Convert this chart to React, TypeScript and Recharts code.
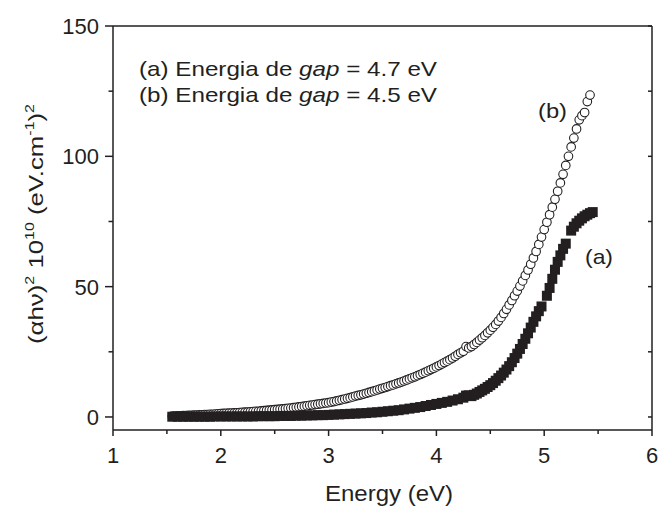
import React from 'react';
import { ScatterChart, Scatter, XAxis, YAxis } from 'recharts';

// ---------- data ----------
const bEnergy = [
  1.55, 1.575, 1.6, 1.625, 1.65, 1.675, 1.7, 1.725, 1.75, 1.775, 1.8, 1.825, 1.85, 1.875, 1.9, 1.925, 1.95, 1.975,
  2.0, 2.025, 2.05, 2.075, 2.1, 2.125, 2.15, 2.175, 2.2, 2.225, 2.25, 2.275, 2.3, 2.325, 2.35, 2.375, 2.4, 2.425,
  2.45, 2.475, 2.5, 2.525, 2.55, 2.575, 2.6, 2.625, 2.65, 2.675, 2.7, 2.725, 2.75, 2.775, 2.8, 2.825, 2.85,
  2.875, 2.9, 2.925, 2.95, 2.975, 3.0, 3.025, 3.05, 3.075, 3.1, 3.125, 3.15, 3.175, 3.2, 3.225, 3.25, 3.275, 3.3,
  3.325, 3.35, 3.375, 3.4, 3.425, 3.45, 3.475, 3.5, 3.525, 3.55, 3.575, 3.6, 3.625, 3.65, 3.675, 3.7, 3.725, 3.75,
  3.775, 3.8, 3.825, 3.85, 3.875, 3.9, 3.925, 3.95, 3.975, 4.0, 4.025, 4.05, 4.075, 4.1, 4.125, 4.15, 4.175, 4.2,
  4.225, 4.25, 4.275,
  4.3, 4.325, 4.35, 4.375, 4.4, 4.425, 4.45, 4.475, 4.5, 4.525, 4.55, 4.575, 4.6, 4.625, 4.65, 4.675, 4.7, 4.725,
  4.75, 4.775, 4.8, 4.825, 4.85, 4.875, 4.9, 4.925, 4.95, 4.975, 5.0, 5.025, 5.05, 5.075, 5.1, 5.125, 5.15, 5.175,
  5.2, 5.225, 5.25, 5.275, 5.3, 5.325, 5.35, 5.375, 5.4, 5.425,
];
const bValue = [
  0.3, 0.35, 0.4, 0.45, 0.5, 0.55, 0.6, 0.65, 0.7, 0.75, 0.8, 0.85, 0.9, 0.95, 1.0, 1.05, 1.1, 1.2,
  1.3, 1.35, 1.4, 1.45, 1.5, 1.55, 1.6, 1.7, 1.8, 1.85, 1.9, 2.0, 2.1, 2.15, 2.2, 2.3, 2.4, 2.5,
  2.6, 2.7, 2.8, 2.9, 3.0, 3.1, 3.2, 3.3, 3.4, 3.55, 3.7, 3.85, 4.0, 4.15, 4.3, 4.45, 4.6,
  4.75, 4.9, 5.05, 5.2, 5.35, 5.5, 5.7, 5.9, 6.15, 6.4, 6.65, 6.9, 7.15, 7.4, 7.7, 8.0, 8.25, 8.5,
  8.8, 9.1, 9.4, 9.7, 10.0, 10.35, 10.7, 11.0, 11.3, 11.65, 12.0, 12.3, 12.7, 13.05, 13.4, 13.8, 14.2, 14.6,
  15.0, 15.4, 15.85, 16.3, 16.75, 17.2, 17.7, 18.2, 18.7, 19.2, 19.75, 20.3, 20.85, 21.4, 22.0, 22.6, 23.3, 24.0,
  24.6, 25.2, 27.0,
  26.5, 27.0, 27.8, 28.6, 29.5, 30.4, 31.3, 32.3, 33.3, 34.4, 35.5, 36.8, 38.2, 39.7, 41.3, 43.0, 44.7, 46.5,
  48.3, 50.2, 52.2, 54.3, 56.4, 58.6, 61.0, 63.5, 66.2, 69.0, 71.9, 74.7, 77.6, 80.5, 83.5, 86.6, 89.8, 93.1,
  96.5, 100.0, 103.6, 107.0, 110.5, 114.0, 115.6, 116.8, 121.0, 123.5,
];

const aEnergy = [
  1.55, 1.6, 1.65, 1.7, 1.75, 1.8, 1.85, 1.9, 1.95, 2.0, 2.05, 2.1, 2.15, 2.2, 2.25, 2.3, 2.35, 2.4, 2.45, 2.5,
  2.55, 2.6, 2.65, 2.7, 2.75, 2.8, 2.85, 2.9, 2.95, 3.0, 3.05, 3.1, 3.15, 3.2, 3.25, 3.3, 3.35, 3.4, 3.45, 3.5,
  3.55, 3.6, 3.65, 3.7, 3.75, 3.8, 3.85, 3.9, 3.95, 4.0, 4.05, 4.1, 4.15, 4.2, 4.25,
  4.275, 4.3, 4.325, 4.35, 4.375, 4.4, 4.425, 4.45, 4.475, 4.5, 4.525, 4.55, 4.575, 4.6, 4.625, 4.65, 4.675, 4.7,
  4.725, 4.75, 4.775, 4.8, 4.825, 4.85, 4.875, 4.9, 4.925, 4.95, 4.975,
  5.025, 5.05, 5.075, 5.1, 5.125, 5.15, 5.175, 5.2,
  5.25, 5.275, 5.3, 5.325, 5.35, 5.375, 5.4, 5.425, 5.45,
];
const aValue = [
  0.1, 0.1, 0.1, 0.1, 0.1, 0.1, 0.1, 0.1, 0.2, 0.2, 0.2, 0.2, 0.2, 0.2, 0.2, 0.2, 0.3, 0.3, 0.3, 0.3,
  0.4, 0.4, 0.4, 0.5, 0.5, 0.6, 0.6, 0.7, 0.7, 0.8, 0.9, 1.0, 1.1, 1.2, 1.3, 1.4, 1.5, 1.7, 1.8, 2.0,
  2.2, 2.4, 2.6, 2.9, 3.2, 3.5, 3.8, 4.2, 4.6, 5.0, 5.4, 5.8, 6.3, 6.8, 7.4,
  8.2, 8.3, 8.0, 8.5, 9.0, 9.6, 10.2, 10.8, 11.5, 12.2, 13.0, 13.9, 14.9, 15.9, 17.0, 18.2, 19.5, 21.0,
  22.6, 24.3, 26.1, 28.0, 30.0, 32.1, 34.3, 36.5, 38.6, 40.6, 42.4,
  46.5, 49.5, 53.0, 56.5, 59.5, 62.0, 64.5, 66.5,
  71.5, 73.0, 74.3, 75.3, 76.2, 77.0, 77.6, 78.2, 78.6,
];

const xMajorTicks = [1, 2, 3, 4, 5, 6];
const xMinorTicks = [1.5, 2.5, 3.5, 4.5, 5.5];
const yMajorTicks = [0, 50, 100, 150];
const yMinorTicks = [25, 75, 125];
const xDomain = [1, 6];
const yDomain = [-5, 150];

const seriesNames = ['(a)', '(b)'];
const gapValues = ['4.7', '4.5'];

const aData = aEnergy.map((e, i) => ({ x: e, y: aValue[i] }));
const bData = bEnergy.map((e, i) => ({ x: e, y: bValue[i] }));
const xTicks = [...xMajorTicks, ...xMinorTicks].sort((p, q) => p - q);
const yTicks = [...yMajorTicks, ...yMinorTicks].sort((p, q) => p - q);

// ---------- styles ----------
const INK = '#231f20';
const FONT = '"Liberation Sans", Arial, Helvetica, sans-serif';
const AXIS_W = 1.5;

const LeftTick = (p: any) => {
  const v = p.payload.value;
  const major = yMajorTicks.includes(v);
  return (
    <g>
      <line x1={p.x - (major ? 8 : 4.5)} x2={p.x} y1={p.y} y2={p.y} stroke={INK} strokeWidth={AXIS_W} />
      {major && (
        <text x={p.x - 14} y={p.y + 8} textAnchor="end" fontSize={22} fontFamily={FONT} fill={INK}>
          {v}
        </text>
      )}
    </g>
  );
};

const BottomTick = (p: any) => {
  const v = p.payload.value;
  const major = xMajorTicks.includes(v);
  return (
    <g>
      <line x1={p.x} x2={p.x} y1={p.y} y2={p.y + (major ? 6 : 4)} stroke={INK} strokeWidth={AXIS_W} />
      {major && (
        <text x={p.x} y={p.y + 33} textAnchor="middle" fontSize={22} fontFamily={FONT} fill={INK}>
          {v}
        </text>
      )}
    </g>
  );
};

const TopTick = (p: any) => (
  <line x1={p.x} x2={p.x} y1={p.y} y2={p.y + 4} stroke={INK} strokeWidth={AXIS_W} />
);

const RightTick = (p: any) => (
  <line x1={p.x - 4} x2={p.x} y1={p.y} y2={p.y} stroke={INK} strokeWidth={AXIS_W} />
);

const CircleShape = (p: any) => (
  <circle cx={p.cx} cy={p.cy} r={4.3} fill="#ffffff" stroke={INK} strokeWidth={1.1} />
);

const SquareShape = (p: any) => (
  <rect x={p.cx - 5} y={p.cy - 5} width={10} height={10} fill={INK} />
);

export default function App() {
  return (
    <div style={{ position: 'absolute', left: 0, top: 0, width: 658, height: 507, background: '#ffffff' }}>
      <ScatterChart width={658} height={507} margin={{ top: 25, right: 5, bottom: 0, left: 0 }}>
        <XAxis
          dataKey="x"
          type="number"
          domain={xDomain}
          ticks={xTicks}
          interval={0}
          height={77}
          tickSize={0}
          tickMargin={0}
          tickLine={false}
          tick={BottomTick}
          axisLine={{ stroke: INK, strokeWidth: AXIS_W }}
          allowDataOverflow
        />
        <XAxis
          xAxisId="top"
          orientation="top"
          type="number"
          domain={xDomain}
          ticks={xTicks}
          interval={0}
          height={1}
          tickSize={0}
          tickMargin={0}
          tickLine={false}
          tick={TopTick}
          axisLine={{ stroke: INK, strokeWidth: AXIS_W }}
          allowDataOverflow
        />
        <YAxis
          dataKey="y"
          type="number"
          domain={yDomain}
          ticks={yTicks}
          interval={0}
          width={113}
          tickSize={0}
          tickMargin={0}
          tickLine={false}
          tick={LeftTick}
          axisLine={{ stroke: INK, strokeWidth: AXIS_W }}
          allowDataOverflow
        />
        <YAxis
          yAxisId="right"
          orientation="right"
          type="number"
          domain={yDomain}
          ticks={yTicks}
          interval={0}
          width={1}
          tickSize={0}
          tickMargin={0}
          tickLine={false}
          tick={RightTick}
          axisLine={{ stroke: INK, strokeWidth: AXIS_W }}
          allowDataOverflow
        />
        <Scatter name="(b)" data={bData} shape={CircleShape} isAnimationActive={false} />
        <Scatter name="(a)" data={aData} shape={SquareShape} isAnimationActive={false} />
      </ScatterChart>
      <svg
        width={658}
        height={507}
        style={{ position: 'absolute', left: 0, top: 0, pointerEvents: 'none' }}
      >
        <g fontFamily={FONT} fill={INK}>
          <text x={139} y={76} fontSize={21} textLength={298} lengthAdjust="spacingAndGlyphs">
            {seriesNames[0]} Energia de <tspan fontStyle="italic">gap</tspan> = {gapValues[0]} eV
          </text>
          <text x={139} y={102} fontSize={21} textLength={298} lengthAdjust="spacingAndGlyphs">
            {seriesNames[1]} Energia de <tspan fontStyle="italic">gap</tspan> = {gapValues[1]} eV
          </text>
          <text x={538} y={118} fontSize={21} textLength={29} lengthAdjust="spacingAndGlyphs">
            {seriesNames[1]}
          </text>
          <text x={585} y={264} fontSize={21} textLength={28} lengthAdjust="spacingAndGlyphs">
            {seriesNames[0]}
          </text>
          <text x={389} y={501} fontSize={22} textAnchor="middle" textLength={128} lengthAdjust="spacingAndGlyphs">
            Energy (eV)
          </text>
          <text
            transform="translate(43,224) rotate(-90)"
            fontSize={21}
            textAnchor="middle"
            textLength={240}
            lengthAdjust="spacingAndGlyphs"
          >
            (αhν)<tspan fontSize={13} dy={-9}>2</tspan>
            <tspan dy={9}> 10</tspan>
            <tspan fontSize={13} dy={-9}>10</tspan>
            <tspan dy={9}> (eV.cm</tspan>
            <tspan fontSize={13} dy={-9}>-1</tspan>
            <tspan dy={9}>)</tspan>
            <tspan fontSize={13} dy={-9}>2</tspan>
          </text>
        </g>
      </svg>
    </div>
  );
}
